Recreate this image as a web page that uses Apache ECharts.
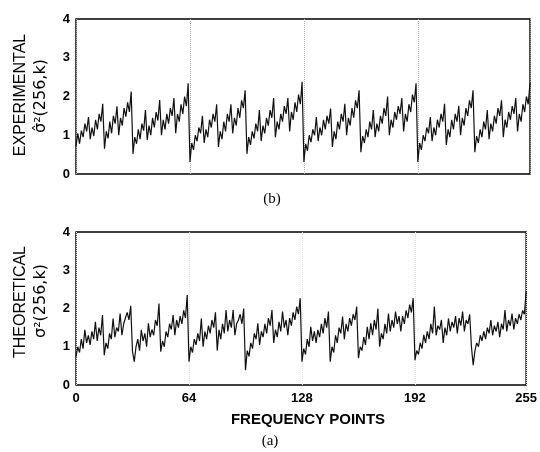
<!DOCTYPE html>
<html>
<head>
<meta charset="utf-8">
<script src="https://cdn.jsdelivr.net/npm/echarts@6/dist/echarts.min.js"></script>
<style>
  html, body { margin: 0; padding: 0; background: #fff; }
  #chart { width: 540px; height: 452px; }
</style>
</head>
<body>
<div id="chart"></div>
<script>
// frequency points 0..255
const xTicks = [0, 64, 128, 192, 255];
const yTicks = [0, 1, 2, 3, 4];

// (b) experimental sigma-hat^2(256,k)
const experimental = [
  0.72,1.05,0.78,1.12,0.95,1.30,1.10,1.47, 0.90,1.20,0.98,1.40,1.15,1.55,1.35,1.81,
  0.65,1.10,0.92,1.35,1.05,1.50,1.30,1.75, 1.00,1.45,1.25,1.70,1.48,1.85,1.60,2.13,
  0.52,0.95,0.78,1.15,0.90,1.30,1.12,1.65, 0.88,1.25,1.00,1.45,1.20,1.60,1.38,1.91,
  1.00,1.40,1.15,1.55,1.30,1.70,1.50,1.96, 1.05,1.55,1.35,1.80,1.55,2.00,1.75,2.34,
  0.31,0.80,0.62,1.00,0.85,1.20,1.05,1.50, 0.80,1.15,0.95,1.40,1.20,1.55,1.35,1.80,
  0.70,1.10,0.90,1.35,1.10,1.55,1.35,1.80, 1.05,1.45,1.25,1.70,1.45,1.90,1.70,2.16,
  0.52,0.95,0.75,1.10,0.92,1.30,1.10,1.65, 0.85,1.25,1.05,1.45,1.25,1.65,1.45,1.96,
  0.95,1.35,1.15,1.55,1.35,1.75,1.55,1.96, 1.10,1.60,1.40,1.85,1.60,2.05,1.80,2.38,
  0.31,0.78,0.60,1.00,0.82,1.15,1.00,1.47, 0.85,1.20,1.00,1.40,1.15,1.50,1.30,1.69,
  0.70,1.10,0.90,1.35,1.15,1.55,1.35,1.81, 1.00,1.45,1.25,1.70,1.45,1.90,1.70,2.16,
  0.56,0.98,0.80,1.15,0.95,1.35,1.15,1.65, 0.95,1.30,1.10,1.50,1.30,1.70,1.50,2.00,
  1.00,1.40,1.20,1.60,1.40,1.75,1.55,1.96, 1.10,1.55,1.35,1.80,1.60,2.05,1.85,2.34,
  0.31,0.80,0.62,1.00,0.85,1.20,1.05,1.47, 0.85,1.20,1.00,1.40,1.20,1.55,1.35,1.81,
  0.75,1.15,0.95,1.40,1.15,1.55,1.35,1.76, 1.00,1.45,1.25,1.70,1.50,1.90,1.70,2.16,
  0.56,0.98,0.80,1.15,0.95,1.35,1.15,1.65, 0.90,1.30,1.10,1.50,1.30,1.70,1.50,1.90,
  0.95,1.40,1.20,1.60,1.40,1.75,1.55,1.96, 1.10,1.55,1.35,1.80,1.60,2.00,1.80,2.35
];

// (a) theoretical sigma^2(256,k)
const theoretical = [
  0.74,1.00,0.85,1.20,0.95,1.44,1.10,1.30, 1.05,1.40,1.20,1.65,1.15,1.50,1.30,1.83,
  0.78,1.10,0.95,1.35,1.20,1.74,1.25,1.50, 1.40,1.87,1.30,1.60,1.55,1.90,1.70,2.07,
  0.87,0.61,1.00,1.20,0.90,1.44,1.15,1.35, 1.00,1.61,1.25,1.45,1.30,1.70,1.55,2.13,
  0.87,1.15,1.00,1.40,1.25,1.60,1.45,1.83, 1.30,1.70,1.50,1.80,1.60,1.95,1.75,2.35,
  0.61,1.00,0.85,1.20,1.05,1.35,1.15,1.74, 1.00,1.40,1.20,1.55,1.35,1.70,1.50,1.90,
  0.90,1.44,1.20,1.60,1.35,1.96,1.40,1.70, 1.50,1.96,1.30,1.60,1.70,1.85,1.60,2.00,
  0.39,0.90,0.75,1.10,0.95,1.35,1.20,1.61, 1.05,1.40,1.25,1.60,1.35,1.75,1.55,1.96,
  1.10,1.45,1.25,1.65,1.40,1.92,1.50,1.70, 1.30,1.75,1.55,1.90,1.70,2.05,1.85,2.27,
  0.61,0.95,0.80,1.20,1.00,1.52,1.15,1.40, 1.10,1.44,1.25,1.60,1.35,1.75,1.50,1.92,
  0.61,1.00,0.85,1.30,1.10,1.50,1.35,1.79, 1.20,1.60,1.40,1.75,1.55,1.85,1.70,2.05,
  0.70,1.00,0.90,1.25,1.05,1.52,1.20,1.61, 1.30,1.70,1.45,2.00,1.00,1.35,1.20,1.60,
  1.35,1.87,1.40,1.70,1.50,1.92,1.60,1.80, 1.40,1.80,1.60,1.95,1.75,2.10,1.90,2.27,
  0.65,0.90,0.80,1.10,0.95,1.31,1.10,1.40, 1.20,1.60,1.35,2.05,1.30,1.55,1.45,1.70,
  1.10,1.50,1.30,1.74,1.40,1.65,1.50,1.80, 1.35,1.75,1.55,1.92,1.40,1.70,1.60,1.85,
  1.00,0.52,0.90,1.10,1.00,1.30,1.15,1.40, 1.20,1.50,1.35,1.70,1.30,1.55,1.40,1.65,
  1.25,1.60,1.45,1.96,1.40,1.70,1.55,1.87, 1.45,1.75,1.60,1.85,1.70,1.95,1.85,2.45
];

const chart = echarts.init(document.getElementById('chart'), null, { renderer: 'canvas' });

const labelFont = { color: '#000', fontSize: 13, fontWeight: 'bold', fontFamily: 'Liberation Sans' };

function xAxisFor(gridIndex, showLabels, gridColor) {
    return {
        type: 'value',
        gridIndex: gridIndex,
        min: 0,
        max: 255,
        axisLine: { show: false },
        // ticks hidden, but they drive the faint dotted split lines
        axisTick: { show: false, customValues: xTicks },
        axisLabel: {
            show: showLabels,
            customValues: xTicks,
            margin: 7,
            ...labelFont
        },
        splitLine: {
            show: true,
            lineStyle: { color: gridColor, type: 'dotted', width: 1 }
        }
    };
}

function yAxisFor(gridIndex) {
    return {
        type: 'value',
        gridIndex: gridIndex,
        min: yTicks[0],
        max: yTicks[yTicks.length - 1],
        interval: 1,
        axisLine: { show: false },
        axisTick: { show: false },
        splitLine: { show: false },
        axisLabel: { margin: 6, ...labelFont }
    };
}

chart.setOption({
    animation: false,
    backgroundColor: '#fff',
    grid: [
        { left: 76, right: 10, top: 19, height: 155, show: true, borderColor: '#000', borderWidth: 1.4, backgroundColor: 'transparent' },
        { left: 76, right: 11, top: 232, height: 153, show: true, borderColor: '#000', borderWidth: 1.4, backgroundColor: 'transparent' }
    ],
    xAxis: [xAxisFor(0, false, '#aaa'), xAxisFor(1, true, '#ddd')],
    yAxis: [yAxisFor(0), yAxisFor(1)],
    series: [
        {
            type: 'line',
            xAxisIndex: 0,
            yAxisIndex: 0,
            showSymbol: false,
            data: experimental.map((v, i) => [i, v]),
            lineStyle: { color: '#111', width: 1.2 }
        },
        {
            type: 'line',
            xAxisIndex: 1,
            yAxisIndex: 1,
            showSymbol: false,
            data: theoretical.map((v, i) => [i, v]),
            lineStyle: { color: '#111', width: 1.2 }
        }
    ],
    graphic: [
        // y axis titles, rotated, two lines each
        { type: 'text', x: 21, y: 95, rotation: Math.PI / 2,
          style: { text: 'EXPERIMENTAL', font: '16px "Liberation Sans"', fill: '#000', align: 'center', verticalAlign: 'middle' } },
        { type: 'text', x: 41, y: 96, rotation: Math.PI / 2,
          style: { text: 'σ̂²(256,k)', font: '16px "DejaVu Sans"', fill: '#000', align: 'center', verticalAlign: 'middle' } },
        { type: 'text', x: 21, y: 302, rotation: Math.PI / 2,
          style: { text: 'THEORETICAL', font: '16px "Liberation Sans"', fill: '#000', align: 'center', verticalAlign: 'middle' } },
        { type: 'text', x: 41, y: 301, rotation: Math.PI / 2,
          style: { text: 'σ²(256,k)', font: '16px "DejaVu Sans"', fill: '#000', align: 'center', verticalAlign: 'middle' } },
        // panel captions
        { type: 'text', x: 272, y: 199,
          style: { text: '(b)', font: '15px "Liberation Serif"', fill: '#000', align: 'center', verticalAlign: 'middle' } },
        { type: 'text', x: 270, y: 441,
          style: { text: '(a)', font: '15px "Liberation Serif"', fill: '#000', align: 'center', verticalAlign: 'middle' } },
        // x axis title
        { type: 'text', x: 308, y: 420,
          style: { text: 'FREQUENCY POINTS', font: 'bold 15px "Liberation Sans"', fill: '#000', align: 'center', verticalAlign: 'middle' } }
    ]
});
</script>
</body>
</html>
